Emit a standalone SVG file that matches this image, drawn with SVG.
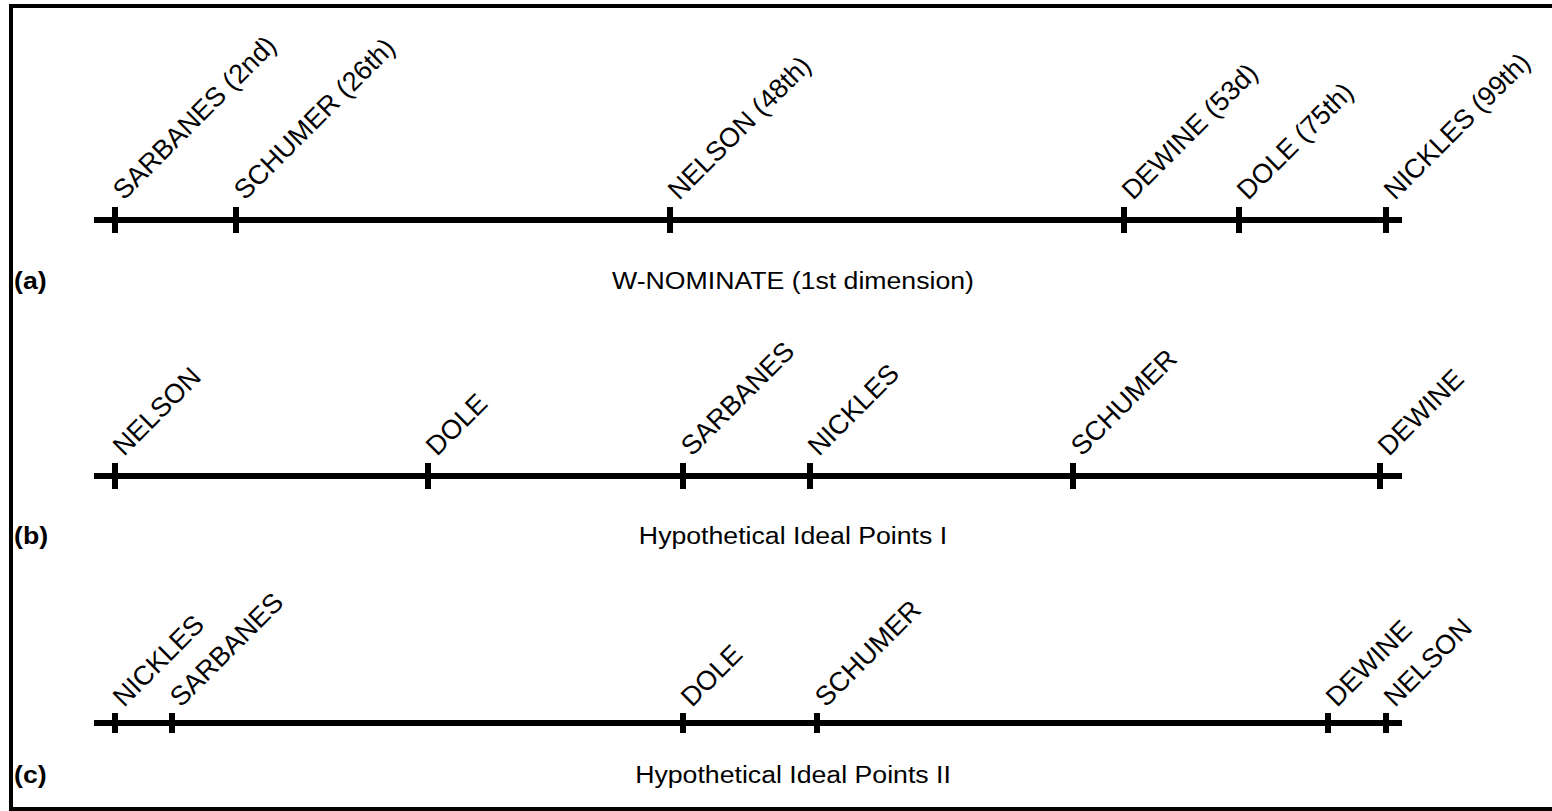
<svg xmlns="http://www.w3.org/2000/svg" width="1552" height="811" viewBox="0 0 1552 811">
<style>
.frame{stroke:#000;stroke-width:4;fill:none}
.axis{stroke:#000;stroke-width:6}
.tick{fill:#000}
.lbl{font-family:"Liberation Sans",Arial,sans-serif;font-size:27px;fill:#000}
.title{font-family:"Liberation Sans",Arial,sans-serif;font-size:23px;fill:#000;text-anchor:middle}
.panel{font-family:"Liberation Sans",Arial,sans-serif;font-size:23px;font-weight:bold;fill:#000}
</style>
<rect width="1552" height="811" fill="#fff"/>
<g id="frame">
<line class="frame" x1="11" y1="6" x2="1552" y2="6"/>
<line class="frame" x1="11" y1="4" x2="11" y2="811"/>
<line class="frame" x1="11" y1="809" x2="1552" y2="809"/>
</g>
<g id="connectors">
<line class="axis" x1="94" y1="220" x2="1402" y2="220"/>
<line class="axis" x1="94" y1="476" x2="1402" y2="476"/>
<line class="axis" x1="94" y1="723" x2="1402" y2="723"/>
</g>
<g id="panel-a">
<g id="a-sarbanes"><rect class="tick" x="112" y="207" width="6" height="26"/><text class="lbl" transform="translate(124,201) rotate(-45)">SARBANES (2nd)</text></g>
<g id="a-schumer"><rect class="tick" x="233" y="207" width="6" height="26"/><text class="lbl" transform="translate(245,201) rotate(-45)">SCHUMER (26th)</text></g>
<g id="a-nelson"><rect class="tick" x="667" y="207" width="6" height="26"/><text class="lbl" transform="translate(679,201) rotate(-45)">NELSON (48th)</text></g>
<g id="a-dewine"><rect class="tick" x="1121" y="207" width="6" height="26"/><text class="lbl" transform="translate(1133,201) rotate(-45)">DEWINE (53d)</text></g>
<g id="a-dole"><rect class="tick" x="1236" y="207" width="6" height="26"/><text class="lbl" transform="translate(1248,201) rotate(-45)">DOLE (75th)</text></g>
<g id="a-nickles"><rect class="tick" x="1383" y="207" width="6" height="26"/><text class="lbl" transform="translate(1395,201) rotate(-45)">NICKLES (99th)</text></g>
<text class="panel" transform="translate(14,289) scale(1.16,1)">(a)</text>
<text class="title" transform="translate(793,289) scale(1.16,1)">W-NOMINATE (1st dimension)</text>
</g>
<g id="panel-b">
<g id="b-nelson"><rect class="tick" x="112" y="463" width="6" height="26"/><text class="lbl" transform="translate(124,457) rotate(-45)">NELSON</text></g>
<g id="b-dole"><rect class="tick" x="425" y="463" width="6" height="26"/><text class="lbl" transform="translate(437,457) rotate(-45)">DOLE</text></g>
<g id="b-sarbanes"><rect class="tick" x="680" y="463" width="6" height="26"/><text class="lbl" transform="translate(692,457) rotate(-45)">SARBANES</text></g>
<g id="b-nickles"><rect class="tick" x="807" y="463" width="6" height="26"/><text class="lbl" transform="translate(819,457) rotate(-45)">NICKLES</text></g>
<g id="b-schumer"><rect class="tick" x="1070" y="463" width="6" height="26"/><text class="lbl" transform="translate(1082,457) rotate(-45)">SCHUMER</text></g>
<g id="b-dewine"><rect class="tick" x="1377" y="463" width="6" height="26"/><text class="lbl" transform="translate(1389,457) rotate(-45)">DEWINE</text></g>
<text class="panel" transform="translate(14,544) scale(1.16,1)">(b)</text>
<text class="title" transform="translate(793,544) scale(1.16,1)">Hypothetical Ideal Points I</text>
</g>
<g id="panel-c">
<g id="c-nickles"><rect class="tick" x="112" y="713" width="6" height="20"/><text class="lbl" transform="translate(124,708) rotate(-45)">NICKLES</text></g>
<g id="c-sarbanes"><rect class="tick" x="169" y="713" width="6" height="20"/><text class="lbl" transform="translate(181,708) rotate(-45)">SARBANES</text></g>
<g id="c-dole"><rect class="tick" x="680" y="713" width="6" height="20"/><text class="lbl" transform="translate(692,708) rotate(-45)">DOLE</text></g>
<g id="c-schumer"><rect class="tick" x="814" y="713" width="6" height="20"/><text class="lbl" transform="translate(826,708) rotate(-45)">SCHUMER</text></g>
<g id="c-dewine"><rect class="tick" x="1325" y="713" width="6" height="20"/><text class="lbl" transform="translate(1337,708) rotate(-45)">DEWINE</text></g>
<g id="c-nelson"><rect class="tick" x="1383" y="713" width="6" height="20"/><text class="lbl" transform="translate(1395,708) rotate(-45)">NELSON</text></g>
<text class="panel" transform="translate(14,783) scale(1.16,1)">(c)</text>
<text class="title" transform="translate(793,783) scale(1.16,1)">Hypothetical Ideal Points II</text>
</g>
</svg>
